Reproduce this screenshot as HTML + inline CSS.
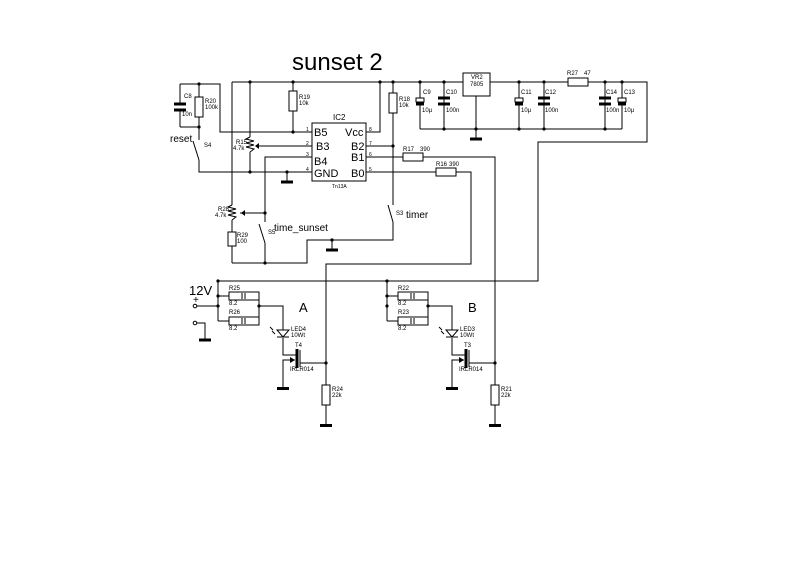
<!DOCTYPE html>
<html><head><meta charset="utf-8"><style>body{margin:0;background:#fff}svg{display:block}text{font-family:"Liberation Sans",sans-serif;fill:#000}</style></head><body>
<svg width="800" height="566" viewBox="0 0 800 566" xmlns="http://www.w3.org/2000/svg">
<rect width="800" height="566" fill="#fff"/>
<g stroke="#000" stroke-width="1" fill="none">
<polyline points="180,84 220,84 220,132 312,132"/>
<line x1="180" y1="84" x2="180" y2="103"/><line x1="180" y1="111" x2="180" y2="127"/>
<polyline points="180,127 199,127"/>
<line x1="199" y1="84" x2="199" y2="97"/><line x1="199" y1="117" x2="199" y2="140"/>
<line x1="193" y1="141" x2="199" y2="160"/>
<polyline points="199,160 199,172 312,172"/>
<polyline points="232,82 647,82 647,142 538,142 538,281 218,281 218,321"/>
<line x1="387" y1="281" x2="387" y2="321"/>
<line x1="232" y1="82" x2="232" y2="205"/><line x1="232" y1="220" x2="232" y2="232"/><line x1="232" y1="246" x2="232" y2="263"/>
<polyline points="232,263 307,263 307,240 393,240 393,222"/>
<line x1="388" y1="205" x2="393" y2="222"/>
<line x1="250" y1="82" x2="250" y2="137"/><line x1="250" y1="152" x2="250" y2="172"/>
<line x1="258" y1="146" x2="312" y2="146"/>
<line x1="293" y1="82" x2="293" y2="91"/><line x1="293" y1="111" x2="293" y2="132"/>
<polyline points="366,132 380,132 380,82"/>
<line x1="287" y1="172" x2="287" y2="182"/>
<polyline points="312,157 265,157 265,222"/>
<line x1="259" y1="224" x2="265" y2="243"/>
<polyline points="265,243 265,263"/>
<line x1="240" y1="213" x2="265" y2="213"/>
<line x1="332" y1="240" x2="332" y2="250"/>
<line x1="393" y1="82" x2="393" y2="93"/><line x1="393" y1="113" x2="393" y2="205"/>
<line x1="366" y1="146" x2="393" y2="146"/>
<polyline points="366,157 403,157"/><polyline points="423,157 495,157 495,385"/>
<polyline points="366,172 436,172"/><polyline points="456,172 471,172 471,264 326,264 326,385"/>
<line x1="420" y1="82" x2="420" y2="129"/><line x1="444" y1="82" x2="444" y2="129"/>
<line x1="519" y1="82" x2="519" y2="129"/><line x1="544" y1="82" x2="544" y2="129"/>
<line x1="605" y1="82" x2="605" y2="129"/><line x1="622" y1="82" x2="622" y2="129"/>
<line x1="420" y1="129" x2="622" y2="129"/>
<line x1="476" y1="96" x2="476" y2="139"/>
</g>
<g fill="#fff" stroke="#000">
<rect x="195" y="97" width="8" height="20"/><rect x="289" y="91" width="8" height="20"/><rect x="389" y="93" width="8" height="20"/>
<rect x="228" y="232" width="8" height="14"/>
<rect x="403" y="153" width="20" height="8"/><rect x="436" y="168" width="20" height="8"/>
<rect x="568" y="78" width="20" height="8"/>
<rect x="463" y="73" width="27" height="23"/>
<rect x="312" y="123" width="54" height="58"/>
<rect x="416" y="98" width="8" height="4"/><rect x="515" y="98" width="8" height="4"/><rect x="618" y="98" width="8" height="4"/>
</g>
<g stroke="#000" stroke-width="1" fill="none">
<polyline points="250,137 246,139 254,141 246,143 254,145 246,147 254,149 250,152"/>
<polyline points="232,205 228,207 236,209 228,211 236,213 228,215 236,217 232,220"/>
</g>
<g stroke="#000" stroke-width="3">
<line x1="174" y1="104" x2="186" y2="104"/><line x1="174" y1="110" x2="186" y2="110"/>
<line x1="438" y1="98" x2="450" y2="98"/><line x1="438" y1="104" x2="450" y2="104"/>
<line x1="538" y1="98" x2="550" y2="98"/><line x1="538" y1="104" x2="550" y2="104"/>
<line x1="599" y1="98" x2="611" y2="98"/><line x1="599" y1="104" x2="611" y2="104"/>
<line x1="416" y1="104" x2="424" y2="104"/><line x1="515" y1="104" x2="523" y2="104"/><line x1="618" y1="104" x2="626" y2="104"/>
<line x1="281" y1="182" x2="293" y2="182"/><line x1="326" y1="250" x2="338" y2="250"/><line x1="470" y1="139" x2="482" y2="139"/>
<line x1="199" y1="340" x2="211" y2="340"/>
</g>
<polygon points="255,146 259,143 259,149"/><polygon points="241,213 245,210 245,216"/>
<g fill="#000"><circle cx="199" cy="84" r="1.6"/><circle cx="199" cy="127" r="1.6"/><circle cx="250" cy="82" r="1.6"/><circle cx="293" cy="82" r="1.6"/><circle cx="380" cy="82" r="1.6"/><circle cx="393" cy="82" r="1.6"/><circle cx="293" cy="132" r="1.6"/><circle cx="250" cy="172" r="1.6"/><circle cx="287" cy="172" r="1.6"/><circle cx="393" cy="146" r="1.6"/><circle cx="265" cy="213" r="1.6"/><circle cx="265" cy="263" r="1.6"/><circle cx="332" cy="240" r="1.6"/><circle cx="420" cy="82" r="1.6"/><circle cx="444" cy="82" r="1.6"/><circle cx="519" cy="82" r="1.6"/><circle cx="544" cy="82" r="1.6"/><circle cx="605" cy="82" r="1.6"/><circle cx="622" cy="82" r="1.6"/><circle cx="444" cy="129" r="1.6"/><circle cx="476" cy="129" r="1.6"/><circle cx="519" cy="129" r="1.6"/><circle cx="544" cy="129" r="1.6"/><circle cx="605" cy="129" r="1.6"/></g>
<g id="drv">
<g stroke="#000" fill="none">
<line x1="218" y1="296" x2="229" y2="296"/><line x1="259" y1="296" x2="259" y2="321"/><line x1="218" y1="321" x2="229" y2="321"/>
<polyline points="259,306 283,306 283,330"/>
<polyline points="283,338 283,355 296,355"/>
<polyline points="295,360 283,360 283,388"/>
<line x1="300" y1="350" x2="300" y2="367"/>
<line x1="300" y1="363" x2="326" y2="363"/>
<line x1="326" y1="405" x2="326" y2="424"/>
</g>
<rect x="229" y="292" width="30" height="8" fill="#fff" stroke="#000"/><rect x="229" y="317" width="30" height="8" fill="#fff" stroke="#000"/>
<line x1="242" y1="293" x2="242" y2="299" stroke="#000"/><line x1="245" y1="293" x2="245" y2="299" stroke="#000"/>
<line x1="242" y1="318" x2="242" y2="324" stroke="#000"/><line x1="245" y1="318" x2="245" y2="324" stroke="#000"/>
<polygon points="277,330 289,330 283,337" fill="#fff" stroke="#000"/><line x1="277" y1="337" x2="289" y2="337" stroke="#000"/>
<line x1="273" y1="330" x2="270" y2="327" stroke="#000"/><line x1="275" y1="334" x2="272" y2="331" stroke="#000"/>
<line x1="297" y1="349" x2="297" y2="368" stroke="#000" stroke-width="3"/>
<polygon points="295,360 290,357 290,363"/>
<rect x="320" y="424" width="12" height="3"/><rect x="277" y="387" width="12" height="3"/>
<rect x="322" y="385" width="8" height="20" fill="#fff" stroke="#000"/>
<circle cx="218" cy="296" r="1.6"/><circle cx="218" cy="306" r="1.6"/><circle cx="259" cy="306" r="1.6"/><circle cx="326" cy="363" r="1.6"/>
</g>
<use href="#drv" x="169" y="0"/>
<g stroke="#000" fill="none"><line x1="195" y1="306" x2="218" y2="306"/><polyline points="195,323 205,323 205,340"/></g>
<circle cx="195" cy="306" r="1.8" fill="#fff" stroke="#000"/><circle cx="195" cy="323" r="1.8" fill="#fff" stroke="#000"/>
<circle cx="218" cy="281" r="1.6"/><circle cx="387" cy="281" r="1.6"/>
<text x="292" y="70" font-size="24">sunset 2</text>
<text x="333" y="120" font-size="8">IC2</text>
<g font-size="11"><text x="314" y="136">B5</text><text x="316" y="150">B3</text><text x="314" y="165">B4</text><text x="314" y="177">GND</text><text x="345" y="136">Vcc</text><text x="351" y="150">B2</text><text x="351" y="161">B1</text><text x="351" y="177">B0</text></g>
<g font-size="5"><text x="306" y="131">1</text><text x="306" y="145">2</text><text x="306" y="156">3</text><text x="306" y="171">4</text><text x="369" y="131">8</text><text x="369" y="145">7</text><text x="369" y="156">6</text><text x="369" y="171">5</text><text x="332" y="188">Tn13A</text></g>
<g font-size="6"><text x="184" y="98">C8</text><text x="182" y="116">10n</text><text x="205" y="103">R20</text><text x="205" y="109">100k</text><text x="299" y="99">R19</text><text x="299" y="105">10k</text><text x="399" y="101">R18</text><text x="399" y="107">10k</text>
<text x="236" y="144">R15</text><text x="233" y="150">4.7k</text><text x="218" y="211">R28</text><text x="215" y="217">4.7k</text><text x="237" y="237">R29</text><text x="237" y="243">100</text>
<text x="204" y="147">S4</text><text x="268" y="234">S5</text><text x="396" y="215">S3</text>
<text x="403" y="151">R17</text><text x="420" y="151">390</text><text x="436" y="166">R16</text><text x="449" y="166">390</text>
<text x="423" y="94">C9</text><text x="446" y="94">C10</text><text x="521" y="94">C11</text><text x="545" y="94">C12</text><text x="606" y="94">C14</text><text x="624" y="94">C13</text>
<text x="422" y="112">10µ</text><text x="446" y="112">100n</text><text x="521" y="112">10µ</text><text x="545" y="112">100n</text><text x="606" y="112">100n</text><text x="624" y="112">10µ</text>
<text x="567" y="75">R27</text><text x="584" y="75">47</text><text x="471" y="79">VR2</text><text x="470" y="86">7805</text>
<text x="229" y="290">R25</text><text x="229" y="305">8.2</text><text x="229" y="314">R26</text><text x="229" y="330">8.2</text>
<text x="398" y="290">R22</text><text x="398" y="305">8.2</text><text x="398" y="314">R23</text><text x="398" y="330">8.2</text>
<text x="291" y="331">LED4</text><text x="291" y="337">10Wt</text><text x="460" y="331">LED3</text><text x="460" y="337">10Wt</text>
<text x="295" y="347">T4</text><text x="464" y="347">T3</text><text x="290" y="371">IRLR014</text><text x="459" y="371">IRLR014</text>
<text x="332" y="391">R24</text><text x="332" y="397">22k</text><text x="501" y="391">R21</text><text x="501" y="397">22k</text></g>
<g font-size="10"><text x="170" y="142">reset</text><text x="274" y="231">time_sunset</text><text x="406" y="218">timer</text></g>
<text x="189" y="295" font-size="13">12V</text><text x="193" y="303" font-size="10">+</text>
<text x="299" y="312" font-size="13">A</text><text x="468" y="312" font-size="13">B</text>
</svg>
</body></html>
